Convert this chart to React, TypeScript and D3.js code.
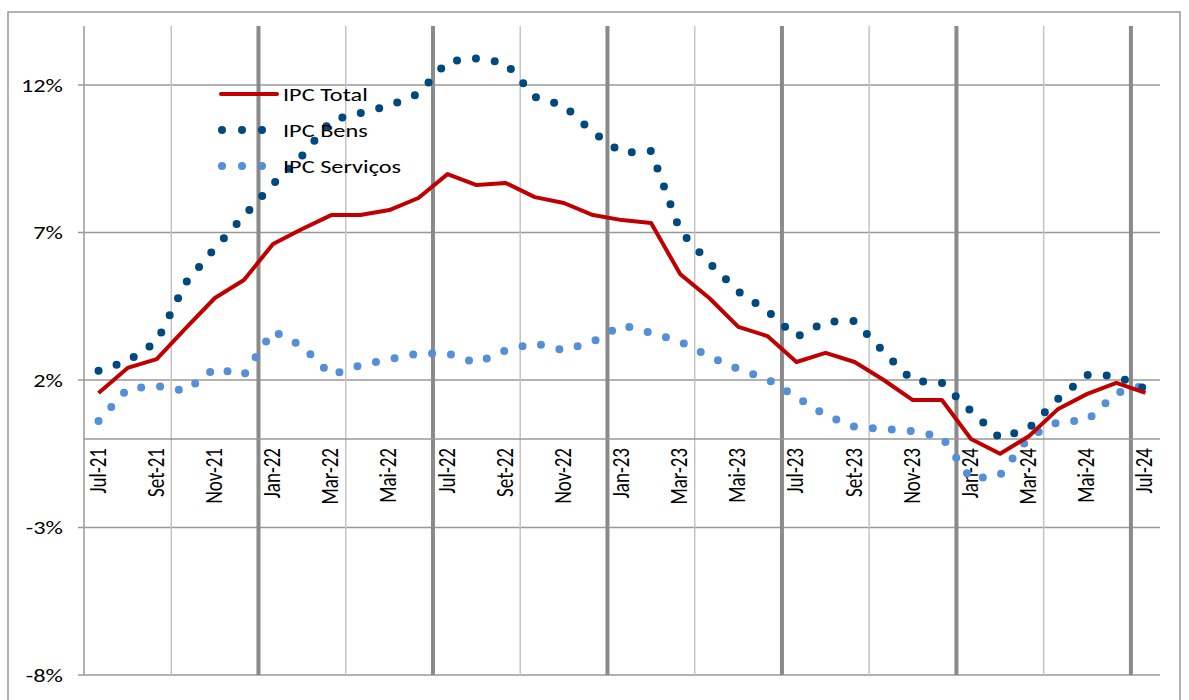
import React from "react";
import * as d3 from "d3";

const months = ["Jul-21","Ago-21","Set-21","Out-21","Nov-21","Dez-21","Jan-22","Fev-22","Mar-22","Abr-22","Mai-22","Jun-22","Jul-22","Ago-22","Set-22","Out-22","Nov-22","Dez-22","Jan-23","Fev-23","Mar-23","Abr-23","Mai-23","Jun-23","Jul-23","Ago-23","Set-23","Out-23","Nov-23","Dez-23","Jan-24","Fev-24","Mar-24","Abr-24","Mai-24","Jun-24","Jul-24"];
const ipcTotal = [1.56,2.41,2.71,3.76,4.78,5.39,6.61,7.12,7.59,7.59,7.76,8.17,8.98,8.61,8.68,8.2,8.0,7.59,7.42,7.32,5.59,4.78,3.8,3.49,2.61,2.92,2.61,2.0,1.32,1.32,0.0,-0.5,0.1,1.02,1.53,1.9,1.56];
const ipcBens = [2.31,2.64,3.3,5.3,6.47,7.56,8.64,9.6,10.8,11.05,11.3,11.7,12.8,12.9,12.75,11.6,11.3,10.4,9.7,9.76,7.05,5.97,5.0,4.34,3.46,3.97,4.0,2.95,1.97,1.9,0.95,0.03,0.37,1.36,2.17,2.14,1.7];
const ipcServicos = [0.61,1.7,1.8,1.63,2.4,2.17,3.66,3.15,2.17,2.5,2.7,2.9,2.9,2.58,3.0,3.25,3.0,3.3,3.86,3.6,3.3,2.8,2.37,2.03,1.42,0.81,0.41,0.34,0.27,0.07,-1.36,-1.22,0.07,0.58,0.64,1.56,1.83];
const yTicks = [-8,-3,2,7,12];
const legendItems = ["IPC Total", "IPC Bens", "IPC Serviços"];

const L = 84, R = 1160, T = 26, B = 675;
const font = "Carlito, 'Open Sans', 'DejaVu Sans', sans-serif";
const SX = 1.28;

function HText({ x, y, anchor, size, children }: any) {
  return (
    <text transform={`translate(${x},${y}) scale(${SX},1)`} textAnchor={anchor} fontFamily={font} fontSize={size} fill="#000">{children}</text>
  );
}

export default function App() {
  const x = d3.scaleBand<string>().domain(months).range([L, R]).padding(0);
  const y = d3.scaleLinear().domain([-8, 14]).range([B, T]);
  const cx = (i: number) => (x(months[i]) as number) + x.bandwidth() / 2;
  const line = (vals: number[]) =>
    d3.line<number>().x((_, i) => cx(i)).y((v) => y(v))(vals) as string;
  const bounds = d3.range(1, months.length).filter((k) => k % 3 === 0);
  const bx = (k: number) => L + k * x.bandwidth();
  const darkBlue = "#00497F";
  const lightBlue = "#5590D6";
  return (
    <svg width={1189} height={700} style={{ position: "absolute", left: 0, top: 0, background: "#fff" }}>
      <rect x={8} y={12} width={1172} height={700} fill="none" stroke="#999" strokeWidth={1.5} />
      {yTicks.map((t) => (
        <g key={t}>
          <line x1={L - 6} x2={R} y1={y(t)} y2={y(t)} stroke="#999" strokeWidth={1.3} />
          <HText x={63} y={y(t) + 6.5} anchor="end" size={19}>{t}%</HText>
        </g>
      ))}
      {bounds.map((k) => (
        <line key={k} x1={bx(k)} x2={bx(k)} y1={T} y2={B} stroke={k % 6 === 0 ? "#8a8a8a" : "#c4c4c4"} strokeWidth={k % 6 === 0 ? 4 : 1.5} />
      ))}
      <line x1={L} x2={L} y1={T} y2={B} stroke="#999" strokeWidth={1.5} />
      <line x1={L} x2={R} y1={y(0)} y2={y(0)} stroke="#999" strokeWidth={1.5} />
      {months.map((m, i) => i % 2 === 0 ? (
        <text key={m} transform={`translate(${cx(i) + 7},${y(0) + 9}) rotate(-90) scale(1,${SX})`} textAnchor="end" fontFamily={font} fontSize={19} fill="#000">{m}</text>
      ) : null)}
      <path d={line(ipcServicos)} fill="none" stroke={lightBlue} strokeWidth={8} strokeLinecap="round" strokeDasharray="0 19" />
      <path d={line(ipcBens)} fill="none" stroke={darkBlue} strokeWidth={8} strokeLinecap="round" strokeDasharray="0 19" />
      <path d={line(ipcTotal)} fill="none" stroke="#C00000" strokeWidth={4} strokeLinejoin="round" />
      <line x1={221} x2={277} y1={94} y2={94} stroke="#C00000" strokeWidth={4} strokeLinecap="round" />
      <line x1={222} x2={263} y1={130} y2={130} stroke={darkBlue} strokeWidth={8} strokeLinecap="round" strokeDasharray="0 20" />
      <line x1={222} x2={263} y1={166} y2={166} stroke={lightBlue} strokeWidth={8} strokeLinecap="round" strokeDasharray="0 20" />
      {legendItems.map((s, i) => (
        <HText key={s} x={283} y={101 + i * 36} anchor="start" size={19}>{s}</HText>
      ))}
    </svg>
  );
}
